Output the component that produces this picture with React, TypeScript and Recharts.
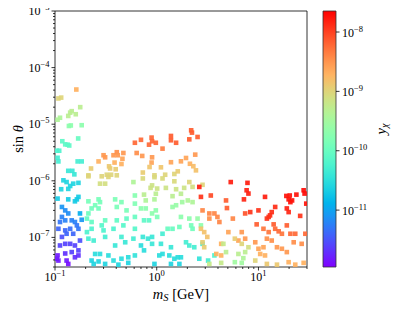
import React from 'react';
import { ScatterChart, Scatter, XAxis, YAxis, ReferenceArea, Label } from 'recharts';

// each point: [m_S in GeV, sin theta, y_chi]
const lightPoints: [number, number, number][] = [
  [0.162, 4.1e-5, 2e-9], [0.108, 2.85e-5, 1e-9], [0.115, 2.95e-5, 1e-9], [0.146, 1.7e-5, 5e-10],
  [0.141, 1.6e-5, 5e-10], [0.135, 1.4e-5, 5e-10], [0.16, 1.5e-5, 5e-10], [0.177, 2.0e-5, 5e-10],
  [0.112, 1.3e-5, 4e-10], [0.106, 1.2e-5, 4e-10], [0.137, 9.3e-6, 2e-10], [0.143, 9.5e-6, 2e-10],
  [0.183, 9.6e-6, 2e-10], [0.169, 5.6e-6, 1e-10], [0.118, 5.0e-6, 8e-11], [0.126, 4.4e-6, 8e-11],
  [0.138, 4.2e-6, 8e-11], [0.133, 4.35e-6, 8e-11], [0.110, 3.4e-6, 6e-11], [0.104, 3.4e-6, 6e-11],
  [0.106, 2.55e-6, 5e-11], [0.108, 2.2e-6, 5e-11], [0.167, 2.2e-6, 5e-11], [0.183, 2.2e-6, 5e-11],
  [0.135, 1.5e-6, 4e-11], [0.148, 1.5e-6, 4e-11], [0.155, 1.3e-6, 4e-11],
  [0.121, 1.02e-6, 2.5e-11], [0.130, 9.5e-7, 2.5e-11], [0.141, 8.1e-7, 2.5e-11], [0.135, 7.2e-7, 2.5e-11],
  [0.115, 7.1e-7, 2.5e-11], [0.151, 8.9e-7, 2.5e-11], [0.170, 9.2e-7, 2.5e-11], [0.106, 4.85e-7, 2e-11],
  [0.135, 4.7e-7, 2e-11], [0.164, 4.7e-7, 2e-11], [0.170, 5.2e-7, 2e-11], [0.157, 4.34e-7, 2e-11],
  [0.117, 3.45e-7, 8e-12], [0.126, 3.0e-7, 7e-12], [0.135, 2.65e-7, 7e-12], [0.117, 2.3e-7, 6e-12],
  [0.112, 1.87e-7, 5e-12], [0.126, 2.0e-7, 6e-12], [0.146, 2.0e-7, 6e-12], [0.157, 1.87e-7, 6e-12],
  [0.176, 2.65e-7, 1.2e-11], [0.183, 2.05e-7, 8e-12], [0.164, 1.63e-7, 5e-12], [0.108, 1.42e-7, 4e-12],
  [0.126, 1.33e-7, 4e-12], [0.141, 1.42e-7, 4.5e-12], [0.130, 1.16e-7, 4e-12], [0.151, 1.16e-7, 4e-12],
  [0.170, 1.42e-7, 5e-12],
  [0.117, 1.02e-7, 3e-12], [0.126, 7.7e-8, 2.5e-12], [0.112, 7.2e-8, 2.5e-12], [0.141, 7.7e-8, 2.5e-12],
  [0.157, 7.2e-8, 2.5e-12], [0.176, 8.8e-8, 3e-12], [0.170, 5.9e-8, 2.5e-12], [0.146, 5.5e-8, 2.5e-12],
  [0.126, 5.2e-8, 2e-12], [0.104, 4.2e-8, 1.5e-12], [0.108, 3.9e-8, 1.5e-12], [0.130, 3.9e-8, 1.5e-12],
  [0.157, 4.45e-8, 2e-12], [0.170, 4.8e-8, 2e-12], [0.106, 4.8e-8, 1.5e-12], [0.135, 3.4e-8, 1.3e-12],
];

const midUpperPoints: [number, number, number][] = [
  [0.213, 1.25e-6, 1e-9], [0.30, 2.83e-6, 3e-9], [0.311, 2.6e-6, 3e-9], [0.376, 2.83e-6, 3e-9],
  [0.405, 3.2e-6, 3.5e-9], [0.414, 2.83e-6, 3e-9], [0.47, 3.1e-6, 3e-9], [0.46, 2.45e-6, 2.5e-9],
  [0.385, 2.1e-6, 2e-9], [0.45, 1.98e-6, 2e-9], [0.268, 2.2e-6, 2e-9], [0.61, 4.7e-6, 6e-9],
  [0.635, 3.1e-6, 3.5e-9], [0.34, 1.8e-6, 1.3e-9], [0.348, 1.65e-6, 1.2e-9], [0.395, 1.6e-6, 1.2e-9],
  [0.226, 1.65e-6, 1.2e-9], [0.323, 1.28e-6, 1e-9], [0.356, 1.28e-6, 1e-9], [0.405, 1.25e-6, 1e-9],
  [0.70, 5.3e-6, 6e-9], [0.89, 5.8e-6, 6e-9], [0.90, 5.0e-6, 6e-9], [0.84, 4.35e-6, 6e-9],
  [0.98, 4.7e-6, 6e-9], [1.14, 3.7e-6, 4.5e-9], [1.38, 6.2e-6, 7e-9], [1.38, 5.2e-6, 7e-9],
  [1.55, 4.7e-6, 7e-9], [2.18, 7.8e-6, 7e-9], [2.22, 7.1e-6, 7e-9], [2.09, 5.4e-6, 7e-9],
  [2.52, 5.95e-6, 7e-9], [0.72, 2.75e-6, 3e-9], [0.90, 2.6e-6, 3e-9], [0.89, 2.1e-6, 2.5e-9],
  [1.38, 2.13e-6, 2.5e-9], [1.73, 2.21e-6, 2.5e-9], [1.94, 2.53e-6, 2.5e-9], [2.39, 2.9e-6, 3e-9],
  [2.12, 2.0e-6, 2e-9], [0.85, 1.75e-6, 1.4e-9], [1.10, 1.73e-6, 1.4e-9], [0.73, 1.4e-6, 1.2e-9],
  [0.95, 1.25e-6, 1e-9], [1.21, 1.28e-6, 1e-9], [1.49, 1.32e-6, 1e-9], [1.61, 1.47e-6, 1.2e-9],
  [2.29, 1.81e-6, 1.6e-9], [2.43, 1.53e-6, 1.5e-9],
  [0.213, 1.2e-6, 1e-9], [0.288, 1.2e-6, 1e-9], [0.335, 1.17e-6, 1e-9], [0.277, 8.9e-7, 8e-10],
  [0.311, 8.9e-7, 8e-10], [0.59, 9.5e-7, 4e-10],
  [0.73, 1.1e-6, 9e-10], [0.95, 1.16e-6, 9e-10], [1.14, 1.1e-6, 9e-10], [1.49, 9.8e-7, 9e-10],
  [2.09, 9.5e-7, 1e-9], [0.90, 8.3e-7, 7e-10], [0.87, 7.5e-7, 7e-10], [1.01, 7.3e-7, 7e-10],
  [1.23, 7.5e-7, 7e-10], [1.55, 7.1e-7, 7e-10], [1.86, 7.5e-7, 7e-10], [2.25, 7.8e-7, 8e-10],
  [2.82, 8.5e-7, 1e-9], [0.75, 5.7e-7, 5e-10], [0.98, 5.9e-7, 5e-10], [0.78, 4.5e-7, 4e-10],
  [0.95, 4.7e-7, 4e-10], [1.43, 5.35e-7, 5e-10], [1.73, 5.9e-7, 5e-10], [2.02, 4.5e-7, 4e-10],
  [2.25, 4.2e-7, 4e-10],
];

const midLowerPoints: [number, number, number][] = [
  [0.213, 4.34e-7, 1.3e-10], [0.248, 3.7e-7, 1.3e-10], [0.268, 4.7e-7, 1.3e-10], [0.277, 4.2e-7, 1.3e-10],
  [0.268, 3.25e-7, 1.2e-10], [0.229, 3.25e-7, 1.2e-10], [0.213, 2.65e-7, 1.1e-10], [0.39, 4.7e-7, 1.5e-10],
  [0.405, 3.45e-7, 1.4e-10], [0.45, 4.2e-7, 1.5e-10], [0.505, 3.0e-7, 1.4e-10], [0.61, 3.95e-7, 1.6e-10],
  [0.61, 5.5e-7, 1.8e-10],
  [0.206, 2.15e-7, 9e-11], [0.229, 1.87e-7, 9e-11], [0.311, 2.0e-7, 1e-10], [0.288, 1.63e-7, 7e-11],
  [0.229, 1.42e-7, 6e-11], [0.206, 1.24e-7, 6e-11], [0.213, 9.5e-8, 5e-11], [0.24, 8.8e-8, 5e-11],
  [0.30, 1.33e-7, 6e-11], [0.311, 1.02e-7, 5e-11], [0.376, 1.42e-7, 6e-11], [0.405, 2.0e-7, 9e-11],
  [0.47, 1.63e-7, 7e-11], [0.505, 2.15e-7, 9e-11], [0.61, 2.3e-7, 1e-10], [0.45, 1.02e-7, 5e-11],
  [0.39, 7.2e-8, 4e-11], [0.49, 8.2e-8, 4e-11], [0.59, 9.5e-8, 5e-11], [0.61, 1.42e-7, 7e-11],
  [0.248, 5.1e-8, 3e-11], [0.277, 5.1e-8, 3e-11], [0.229, 3.9e-8, 2.5e-11], [0.268, 3.76e-8, 2.5e-11],
  [0.335, 4.8e-8, 3e-11], [0.376, 3.9e-8, 3e-11], [0.45, 4.2e-8, 3e-11], [0.525, 4.45e-8, 3e-11],
  [0.61, 4.8e-8, 3.5e-11], [0.311, 3.4e-8, 2.5e-11], [0.42, 3.3e-8, 2.5e-11], [0.525, 3.55e-8, 2.5e-11],
  [0.24, 3.4e-8, 2.5e-11],
  [0.70, 3.25e-7, 2e-10], [0.78, 3.25e-7, 2e-10], [0.90, 2.65e-7, 2e-10], [1.01, 2.3e-7, 1.5e-10],
  [0.98, 3.0e-7, 2e-10], [1.43, 3.45e-7, 2.5e-10], [1.55, 3.7e-7, 2.5e-10], [1.78, 4.2e-7, 3e-10],
  [1.73, 2.3e-7, 2e-10], [2.09, 2.15e-7, 2e-10], [2.52, 2.15e-7, 2.5e-10], [2.72, 1.63e-7, 2e-10],
  [0.84, 2.0e-7, 8e-11], [0.75, 2.0e-7, 8e-11], [1.28, 1.42e-7, 1e-10], [1.43, 1.42e-7, 1e-10],
  [1.67, 1.53e-7, 1.2e-10], [2.18, 1.63e-7, 1.3e-10], [2.25, 1.42e-7, 1.2e-10],
  [0.73, 1.02e-7, 4e-11], [0.82, 9.5e-8, 4e-11], [0.90, 1.02e-7, 4e-11], [1.14, 1.16e-7, 5e-11],
  [0.70, 7.2e-8, 3e-11], [0.75, 5.9e-8, 3e-11], [0.90, 7.7e-8, 4e-11], [1.10, 7.7e-8, 4e-11],
  [1.14, 5.1e-8, 3e-11], [1.38, 6.7e-8, 4e-11], [1.06, 4.8e-8, 3e-11], [1.33, 4.8e-8, 3e-11],
  [1.49, 4.2e-8, 3e-11], [1.61, 4.45e-8, 3e-11], [1.73, 4.45e-8, 3e-11], [1.94, 8.2e-8, 5e-11],
  [2.09, 7.2e-8, 5e-11], [2.34, 6.7e-8, 5e-11], [2.82, 7.7e-8, 5e-11], [2.62, 4.2e-8, 3.5e-11],
  [0.95, 3.4e-8, 2.5e-11], [1.38, 3.4e-8, 2.5e-11], [1.67, 3.4e-8, 2.5e-11], [3.69, 4.8e-8, 6e-11],
  [3.2, 3.9e-8, 5e-11],
];

const heavyPoints: [number, number, number][] = [
  [2.62, 7.8e-7, 1.5e-8], [2.72, 5.2e-7, 1.2e-8], [3.4, 5.5e-7, 9e-9], [2.82, 3.0e-7, 4e-9],
  [3.29, 2.65e-7, 4e-9], [3.69, 2.65e-7, 4e-9], [3.95, 2.3e-7, 4e-9], [3.29, 2.15e-7, 3.5e-9],
  [4.13, 1.87e-7, 4e-9], [2.72, 1.42e-7, 1.5e-9], [2.93, 1.24e-7, 1.5e-9], [3.14, 1.02e-7, 1.5e-9],
  [2.82, 8.2e-8, 1.2e-9], [2.93, 6.7e-8, 1.2e-9], [4.3, 7.7e-8, 2e-9], [3.85, 5.1e-8, 2e-9],
  [4.3, 4.8e-8, 2e-9], [3.29, 3.4e-8, 6e-10], [4.3, 3.55e-8, 6e-10],
  [5.34, 9.5e-7, 1.6e-8], [7.8, 9.2e-7, 1.6e-8], [7.65, 6.8e-7, 1.5e-8], [7.97, 5.95e-7, 1.5e-8],
  [7.2, 4.7e-7, 1.4e-8], [11.6, 5.2e-7, 1.6e-8], [18.8, 5.4e-7, 1.8e-8], [20.3, 5.5e-7, 1.8e-8],
  [19.8, 4.7e-7, 1.8e-8], [21.4, 4.5e-7, 1.8e-8], [20.6, 4.2e-7, 1.8e-8], [23.6, 5.7e-7, 1.8e-8],
  [27.8, 6.8e-7, 2e-8], [28.4, 5.95e-7, 2e-8], [29.5, 3.95e-7, 1.8e-8], [19.0, 3.25e-7, 1.5e-8],
  [19.8, 2.8e-7, 1.4e-8], [14.6, 3.45e-7, 1.3e-8], [13.5, 2.8e-7, 1.3e-8], [13.0, 2.45e-7, 1.3e-8],
  [12.1, 2.15e-7, 1.2e-8], [12.6, 2.3e-7, 1.2e-8], [8.3, 2.8e-7, 1.2e-8], [10.0, 3.0e-7, 1.2e-8],
  [25.7, 2.4e-7, 1.2e-8],
  [4.8, 4.5e-7, 7e-9], [4.9, 3.3e-7, 7e-9], [7.4, 2.65e-7, 8e-9], [9.6, 1.7e-7, 7e-9],
  [14.1, 1.7e-7, 7e-9], [14.6, 1.42e-7, 6e-9], [15.8, 1.28e-7, 6e-9], [19.0, 1.63e-7, 7e-9],
  [20.6, 1.16e-7, 6e-9], [23.0, 1.16e-7, 6e-9], [28.9, 1.16e-7, 6e-9], [17.0, 1.16e-7, 5e-9],
  [11.2, 1.42e-7, 5e-9], [12.6, 1.24e-7, 5e-9],
  [5.6, 2.15e-7, 4e-9], [5.06, 1.24e-7, 2.5e-9], [6.85, 1.24e-7, 3e-9], [7.4, 9.5e-8, 3e-9],
  [6.35, 8.8e-8, 2.5e-9], [9.3, 8.2e-8, 3e-9], [12.1, 9.5e-8, 3.5e-9], [13.5, 8.8e-8, 3.5e-9],
  [15.2, 6.7e-8, 3e-9], [17.0, 6.3e-8, 3e-9], [19.0, 5.5e-8, 3e-9], [22.2, 8.2e-8, 3.5e-9],
  [26.6, 7.7e-8, 3.5e-9], [11.2, 6.7e-8, 2.5e-9], [10.0, 6.3e-8, 2.5e-9], [10.4, 5.1e-8, 2e-9],
  [11.6, 4.8e-8, 2e-9], [19.8, 3.65e-8, 2e-9], [23.0, 3.3e-8, 2e-9], [27.8, 3.55e-8, 2e-9],
  [12.1, 3.4e-8, 1.3e-9], [15.2, 3.3e-8, 1.3e-9],
  [5.86, 9.5e-8, 1.2e-9], [6.85, 7.7e-8, 1e-9], [7.97, 6.7e-8, 8e-10], [4.52, 7.7e-8, 6e-10],
  [4.8, 5.5e-8, 5e-10], [6.35, 5.1e-8, 5e-10], [7.4, 5.5e-8, 5e-10], [9.3, 3.9e-8, 1e-9],
  [5.86, 3.65e-8, 3e-10], [6.85, 3.55e-8, 3e-10], [7.1, 4.3e-8, 4e-10],
];

const massDomain = [0.1, 30];
const sinDomain = [3e-8, 1e-3];
const yChiDomain = [1.1e-12, 2.26e-8];

const decades = (lo: number, hi: number, maxTick: number) => {
  const out: number[] = [];
  for (let e = lo; e <= hi; e++)
    for (let k = 1; k <= 9; k++) {
      const v = Number((k * Math.pow(10, e)).toPrecision(3));
      if (v <= maxTick) out.push(v);
    }
  return out;
};
const massTicks = decades(-1, 1, 30);
const sinTicks = decades(-8, -3, 1e-3).filter((v) => v >= 3e-8);
const yChiTicks = [1e-11, 1e-10, 1e-9, 1e-8];

const FONT = '"Liberation Serif", "DejaVu Serif", serif';

const isMajor = (v: number) => Math.abs(Math.log10(v) - Math.round(Math.log10(v))) < 1e-6;
const expOf = (v: number) => Math.round(Math.log10(v));
const fmtExp = (e: number) => (e < 0 ? '\u2212' + Math.abs(e) : String(e));

// matplotlib "rainbow"
function rainbow(t: number) {
  const c = Math.max(0, Math.min(1, t));
  const r = Math.min(1, Math.abs(2 * c - 0.5));
  const g = Math.sin(Math.PI * c);
  const b = Math.max(0, Math.cos((Math.PI * c) / 2));
  const h = (x: number) => Math.round(x * 255);
  return `rgb(${h(r)},${h(g)},${h(b)})`;
}
const lo = Math.log10(yChiDomain[0]);
const hi = Math.log10(yChiDomain[1]);
const colorOf = (y: number) => rainbow((Math.log10(y) - lo) / (hi - lo));

const points = [...lightPoints, ...midUpperPoints, ...midLowerPoints, ...heavyPoints].map(
  ([m, s, y]) => ({ m, s, y })
);

const gradStops = Array.from({ length: 21 }, (_, i) => i / 20);

function SquareDot(props: any) {
  const { cx, cy, payload } = props;
  if (cx == null || cy == null) return null;
  const a = 4.6;
  return <rect x={cx - a / 2} y={cy - a / 2} width={a} height={a} fill={colorOf(payload.y)} fillOpacity={0.92} />;
}

function PowerText({ x, y, exp, anchor }: { x: number; y: number; exp: number; anchor: string }) {
  return (
    <text x={x} y={y} textAnchor={anchor} fontFamily={FONT} fontSize={12} fill="#000">
      10
      <tspan dy={-5} fontSize={8.5}>{fmtExp(exp)}</tspan>
    </text>
  );
}

function MassTick(props: any) {
  const { x, y, payload } = props;
  const major = isMajor(payload.value);
  return (
    <g>
      <line x1={x} x2={x} y1={y} y2={y + (major ? 3.5 : 2)} stroke="#000" strokeWidth={0.8} />
      {major && <PowerText x={x} y={y + 14} exp={expOf(payload.value)} anchor="middle" />}
    </g>
  );
}

function SinTick(props: any) {
  const { x, y, payload } = props;
  const major = isMajor(payload.value);
  return (
    <g>
      <line x1={x} x2={x - (major ? 3.5 : 2)} y1={y} y2={y} stroke="#000" strokeWidth={0.8} />
      {major && <PowerText x={x - 5.5} y={y + 4} exp={expOf(payload.value)} anchor="end" />}
    </g>
  );
}

function ChiTick(props: any) {
  const { x, y, payload } = props;
  return (
    <g>
      <line x1={x} x2={x + 3.5} y1={y} y2={y} stroke="#000" strokeWidth={0.8} />
      <PowerText x={x + 6} y={y + 4.5} exp={expOf(payload.value)} anchor="start" />
    </g>
  );
}

export default function App() {
  return (
    <div style={{ position: 'relative', width: 399, height: 311, margin: '-8px 0 0 -8px' }}>
      <div style={{ position: 'absolute', left: 0, top: 0 }}>
        <ScatterChart width={318} height={311} margin={{ top: 11, right: 11, bottom: 0, left: 13 }}>
          <XAxis
            type="number"
            dataKey="m"
            scale="log"
            domain={massDomain}
            allowDataOverflow
            ticks={massTicks}
            interval={0}
            tickSize={0}
            tickMargin={0}
            tickLine={false}
            axisLine={false}
            height={44}
            tick={(p: any) => <MassTick {...p} />}
          >
            <Label
              content={({ viewBox }: any) => (
                <text
                  x={viewBox.x + viewBox.width / 2}
                  y={viewBox.y + 31.5}
                  textAnchor="middle"
                  fontFamily={FONT}
                  fontSize={14.5}
                  fill="#000"
                >
                  <tspan fontStyle="italic">m</tspan>
                  <tspan fontStyle="italic" fontSize={10.5} dy={2.5}>S</tspan>
                  <tspan dy={-2.5}>{' [GeV]'}</tspan>
                </text>
              )}
            />
          </XAxis>
          <YAxis
            type="number"
            dataKey="s"
            scale="log"
            domain={sinDomain}
            allowDataOverflow
            ticks={sinTicks}
            interval={0}
            tickSize={0}
            tickMargin={0}
            tickLine={false}
            axisLine={false}
            width={42}
            tick={(p: any) => <SinTick {...p} />}
          >
            <Label
              content={({ viewBox }: any) => {
                const cx = 22.5;
                const cy = viewBox.y + viewBox.height / 2;
                return (
                  <text
                    x={cx}
                    y={cy}
                    transform={`rotate(-90 ${cx} ${cy})`}
                    textAnchor="middle"
                    fontFamily={FONT}
                    fontSize={14.5}
                    fill="#000"
                  >
                    sin <tspan fontStyle="italic">θ</tspan>
                  </text>
                );
              }}
            />
          </YAxis>
          <Scatter data={points} isAnimationActive={false} shape={(p: any) => <SquareDot {...p} />} />
          <ReferenceArea
            x1={massDomain[0]}
            x2={massDomain[1]}
            y1={sinDomain[0]}
            y2={sinDomain[1]}
            fill="none"
            stroke="#000"
            strokeWidth={0.8}
          />
        </ScatterChart>
      </div>
      <div style={{ position: 'absolute', left: 308, top: 0 }}>
        <ScatterChart width={91} height={311} margin={{ top: 11, right: 0, bottom: 44, left: 15 }}>
          <defs>
            <linearGradient id="cbarGrad" x1="0" y1="1" x2="0" y2="0">
              {gradStops.map((t) => (
                <stop key={t} offset={`${t * 100}%`} stopColor={rainbow(t)} />
              ))}
            </linearGradient>
          </defs>
          <XAxis type="number" dataKey="u" domain={[0, 1]} allowDataOverflow hide />
          <YAxis
            type="number"
            dataKey="v"
            orientation="right"
            scale="log"
            domain={yChiDomain}
            allowDataOverflow
            ticks={yChiTicks}
            interval={0}
            tickSize={0}
            tickMargin={0}
            tickLine={false}
            axisLine={false}
            width={63}
            tick={(p: any) => <ChiTick {...p} />}
          >
            <Label
              content={({ viewBox }: any) => {
                const cx = viewBox.x + 49.5;
                const cy = 129;
                return (
                  <text
                    x={cx}
                    y={cy}
                    transform={`rotate(-90 ${cx} ${cy})`}
                    textAnchor="middle"
                    fontFamily={FONT}
                    fontSize={14.5}
                    fill="#000"
                  >
                    <tspan fontStyle="italic">y</tspan>
                    <tspan fontStyle="italic" fontSize={10.5} dy={2.5}>χ</tspan>
                  </text>
                );
              }}
            />
          </YAxis>
          <ReferenceArea
            x1={0}
            x2={1}
            y1={yChiDomain[0]}
            y2={yChiDomain[1]}
            fill="url(#cbarGrad)"
            fillOpacity={1}
            stroke="#333"
            strokeWidth={0.8}
          />
        </ScatterChart>
      </div>
    </div>
  );
}
